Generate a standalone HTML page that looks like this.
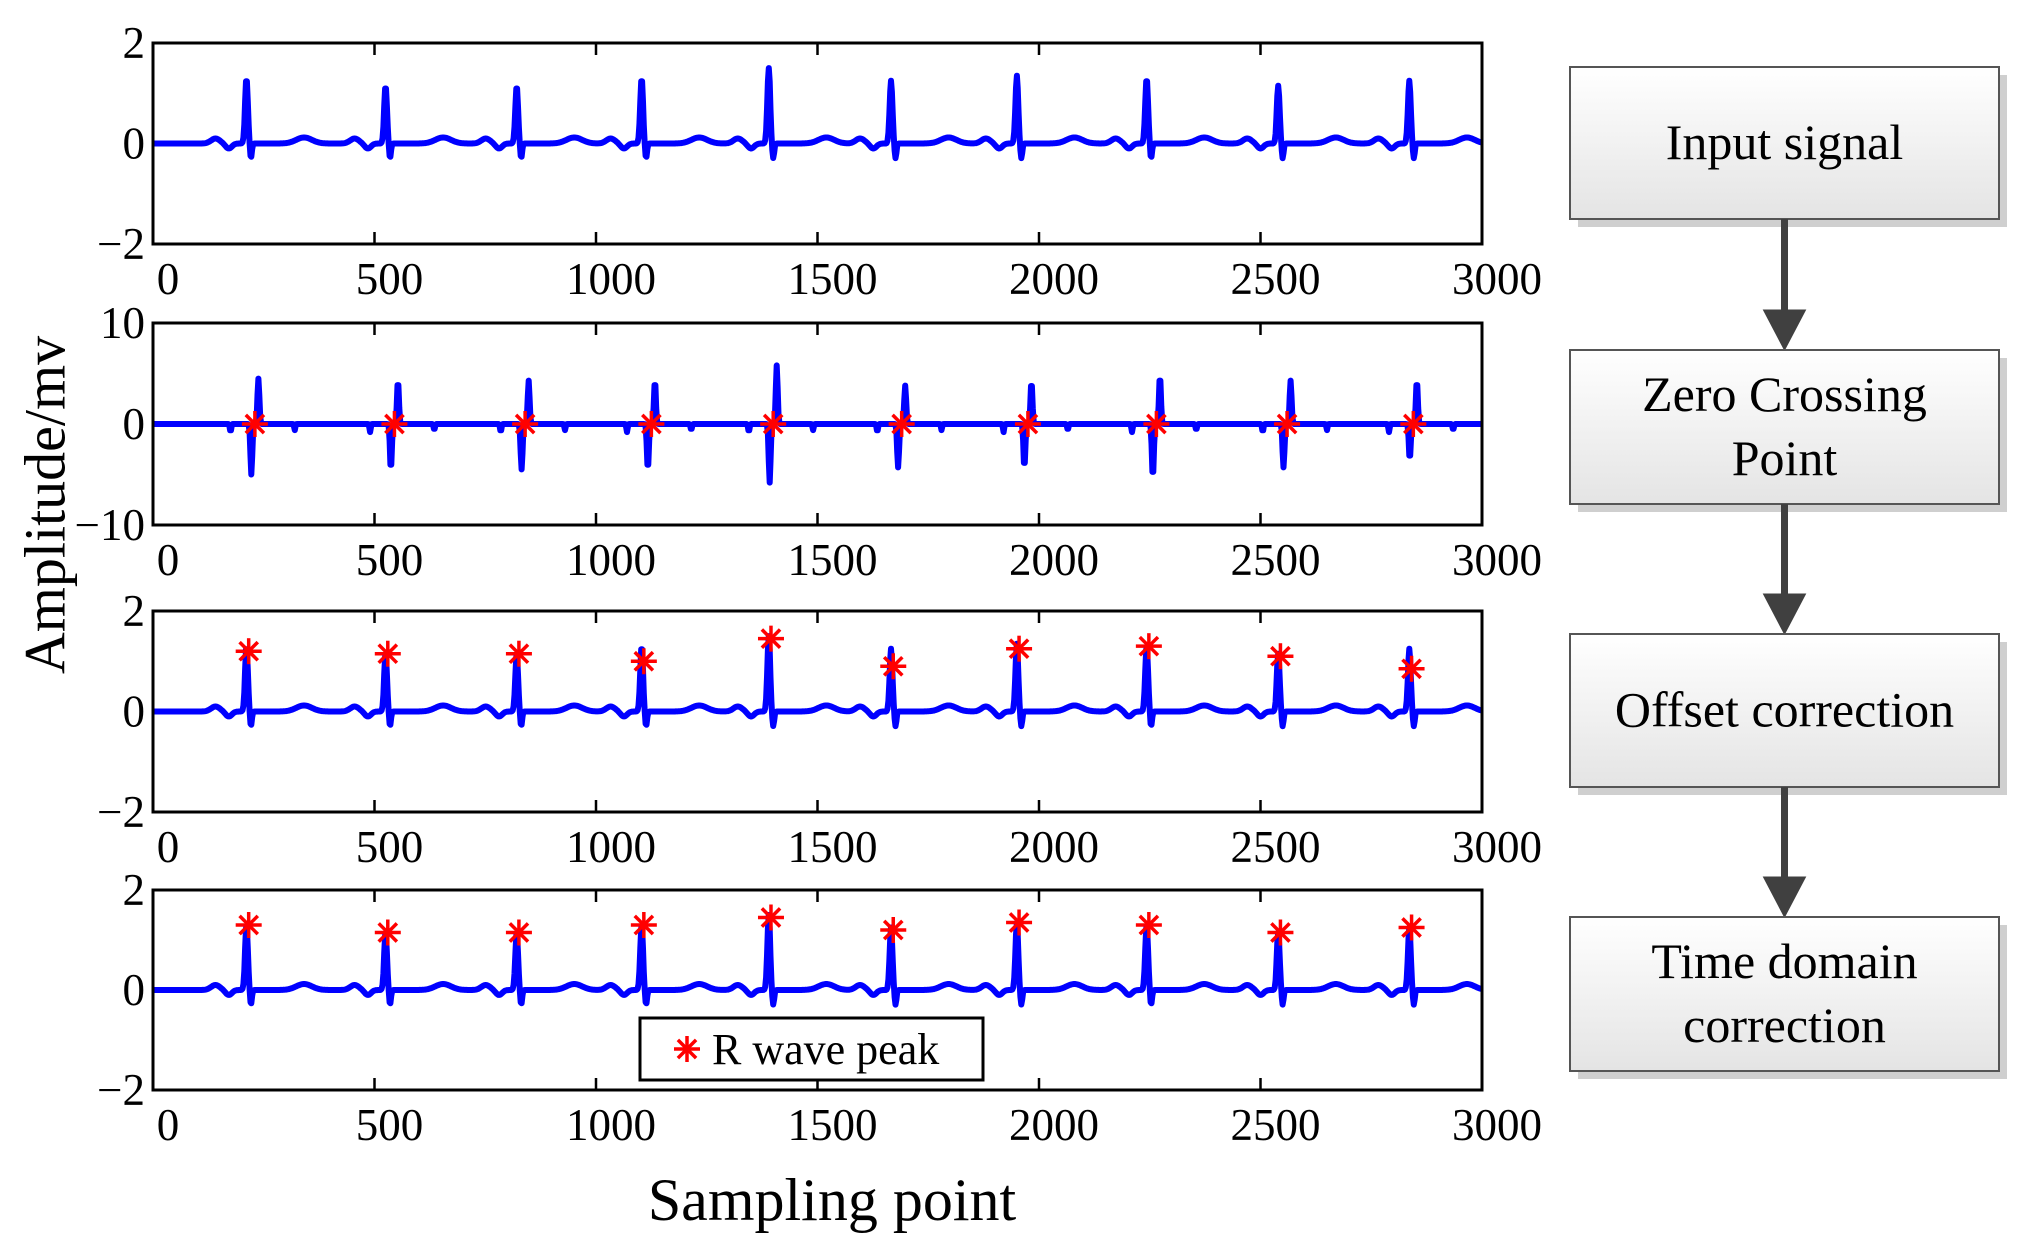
<!DOCTYPE html>
<html><head><meta charset="utf-8"><style>
html,body{margin:0;padding:0;background:#fff;}
svg{display:block;font-family:"Liberation Serif",serif;}
</style></head><body>
<svg id="fig" width="2036" height="1248" viewBox="0 0 2036 1248">
<defs>
<linearGradient id="boxg" x1="0" y1="0" x2="0" y2="1"><stop offset="0" stop-color="#ffffff"/><stop offset="1" stop-color="#e4e4e4"/></linearGradient>
</defs>
<g id="plots"></g>
<text x="45" y="505" font-size="58" text-anchor="middle" transform="rotate(-90 45 505)" dominant-baseline="central">Amplitude/mv</text>
<text x="832" y="1220" font-size="60" text-anchor="middle">Sampling point</text>
<g id="flow"></g>
</svg>
<script>
const NS="http://www.w3.org/2000/svg";
// ---- data ----
const beatSamples=[211,525,821,1103,1390,1666,1950,2243,2540,2836];
const rAmp1=[1.3,1.15,1.15,1.3,1.5,1.25,1.35,1.3,1.15,1.25];
const zcSamples=[230,545,840,1125,1400,1690,1975,2265,2560,2845];
const dPos=[4.5,4.3,4.3,4.3,5.8,3.8,4.2,4.8,4.3,4.3];
const dNeg=[-5,-4.5,-4.5,-4.5,-5.8,-4.3,-4.3,-5.3,-4.3,-3.5];
const peak3=[1.2,1.15,1.15,1.0,1.45,0.9,1.25,1.3,1.1,0.85];
const peak4=[1.3,1.15,1.15,1.3,1.45,1.2,1.35,1.3,1.15,1.25];
const xTicks=[0,500,1000,1500,2000,2500,3000];
const yTicksA=[-2,0,2];
const yTicksB=[-10,0,10];
const steps=["Input signal","Zero Crossing|Point","Offset correction","Time domain|correction"];

const L=153,R=1482;
const panels=[{top:43,bot:244,ymin:-2,ymax:2,ticks:yTicksA},
{top:323,bot:525,ymin:-10,ymax:10,ticks:yTicksB},
{top:611,bot:812,ymin:-2,ymax:2,ticks:yTicksA},
{top:890,bot:1090,ymin:-2,ymax:2,ticks:yTicksA}];
function xs(v){return L+(v-0)/(3000-0)*(R-L);}
function ysf(p){return v=>p.bot-(v-p.ymin)/(p.ymax-p.ymin)*(p.bot-p.top);}
function mk(tag,attrs,parent){const e=document.createElementNS(NS,tag);for(const k in attrs)e.setAttribute(k,attrs[k]);parent.appendChild(e);return e;}

function ecgPts(amps){
  const pts=[];
  for(let s=0;s<=3000;s+=2){
    let v=0;
    for(let i=0;i<beatSamples.length;i++){
      const d=s-beatSamples[i];
      v+=0.1*Math.exp(-Math.pow((d+70)/14,2));
      v+=0.12*Math.exp(-Math.pow((d-130)/25,2));
      v-=0.1*Math.exp(-Math.pow((d+40)/10,2));
      v+=amps[i]*Math.exp(-Math.pow(d/4.5,2));
      v-=0.3*Math.exp(-Math.pow((d-10)/3,2));
    }
    pts.push([s,v]);
  }
  return pts;
}
function derivPts(){
  const pts=[];
  for(let s=0;s<=3000;s+=2){
    let v=0;
    for(let i=0;i<zcSamples.length;i++){
      const d=s-zcSamples[i];
      v+=dPos[i]*Math.exp(-Math.pow((d-8)/3,2));
      v+=dNeg[i]*Math.exp(-Math.pow((d+8)/3,2));
      v-=0.6*Math.exp(-Math.pow((d-90)/2,2));
      v-=0.8*Math.exp(-Math.pow((d+55)/2,2));
    }
    pts.push([s,v]);
  }
  return pts;
}
function star(g,x,y,name){
  const grp=mk('g',{stroke:'#ff0000','stroke-width':3.5},g);
  
  
  const r=13;
  mk('line',{x1:x-r,y1:y,x2:x+r,y2:y},grp);
  mk('line',{x1:x,y1:y-r,x2:x,y2:y+r},grp);
  mk('line',{x1:x-r*0.7,y1:y-r*0.7,x2:x+r*0.7,y2:y+r*0.7},grp);
  mk('line',{x1:x-r*0.7,y1:y+r*0.7,x2:x+r*0.7,y2:y-r*0.7},grp);
}
const plots=document.getElementById('plots');
panels.forEach((p,pi)=>{
  const g=mk('g',{},plots);
  
  
  const y=ysf(p);
  const data = pi===1?derivPts():ecgPts(rAmp1);
  const d=data.map((q,i)=>(i?'L':'M')+xs(q[0]).toFixed(1)+','+y(q[1]).toFixed(1)).join('');
  const line=mk('path',{d:d,fill:'none',stroke:'#0000ff','stroke-width':6,'stroke-linejoin':'round'},g);
  
  
  if(pi===1) zcSamples.forEach((s,i)=>star(g,xs(s),y(0),'zero-crossing-marker'));
  if(pi===2) beatSamples.forEach((s,i)=>star(g,xs(s+5),y(peak3[i]),'r-peak-marker'));
  if(pi===3) beatSamples.forEach((s,i)=>star(g,xs(s+5),y(peak4[i]),'r-peak-marker'));
  const box=mk('rect',{x:L,y:p.top,width:R-L,height:p.bot-p.top,fill:'none',stroke:'#000','stroke-width':3},g);
  
  
  xTicks.forEach(t=>{
    const x=xs(t);
    mk('line',{x1:x,y1:p.top,x2:x,y2:p.top+12,stroke:'#000','stroke-width':2.5},g);
    mk('line',{x1:x,y1:p.bot,x2:x,y2:p.bot-12,stroke:'#000','stroke-width':2.5},g);
    const tx=mk('text',{x:x+15,y:p.bot+50,'font-size':45,'text-anchor':'middle'},g);
    tx.textContent=t;
    
    
  });
  p.ticks.forEach(t=>{
    const yy=y(t);
    const tx=mk('text',{x:145,y:yy+15,'font-size':45,'text-anchor':'end'},g);
    tx.textContent=t<0?'\u2212'+(-t):t;
    
    
  });
});
// legend
const lg=mk('g',{},plots);


mk('rect',{x:640,y:1018,width:343,height:62,fill:'#fff',stroke:'#000','stroke-width':3},lg);
star(lg,687,1049,'legend-marker');
const lt=mk('text',{x:712,y:1064,'font-size':44},lg);
lt.textContent='R wave peak';


// flowchart
const flow=document.getElementById('flow');
const boxes=[[67,219],[350,504],[634,787],[917,1071]];
const bx=1570,bw=429,cx=bx+bw/2;
boxes.forEach((b,i)=>{
  const g=mk('g',{},flow);
  
  
  mk('rect',{x:bx+8,y:b[0]+8,width:bw,height:b[1]-b[0],fill:'#cfcfcf'},g);
  mk('rect',{x:bx,y:b[0],width:bw,height:b[1]-b[0],fill:'url(#boxg)',stroke:'#555','stroke-width':2},g);
  const lines=steps[i].split('|');
  const mid=(b[0]+b[1])/2;
  lines.forEach((t,k)=>{
    const yy=mid+16+(k-(lines.length-1)/2)*64;
    const tx=mk('text',{x:cx,y:yy,'font-size':50,'text-anchor':'middle'},g);
    tx.textContent=t;
  });
  if(i<boxes.length-1){
    const a=mk('g',{fill:'#404040',stroke:'#404040'},flow);
    
    
    const y1=b[1],y2=boxes[i+1][0];
    mk('line',{x1:cx,y1:y1,x2:cx,y2:y2-38,'stroke-width':7},a);
    mk('polygon',{points:`${cx-21},${y2-40} ${cx+21},${y2-40} ${cx},${y2}`,'stroke-width':1},a);
  }
});
</script>
</body></html>
